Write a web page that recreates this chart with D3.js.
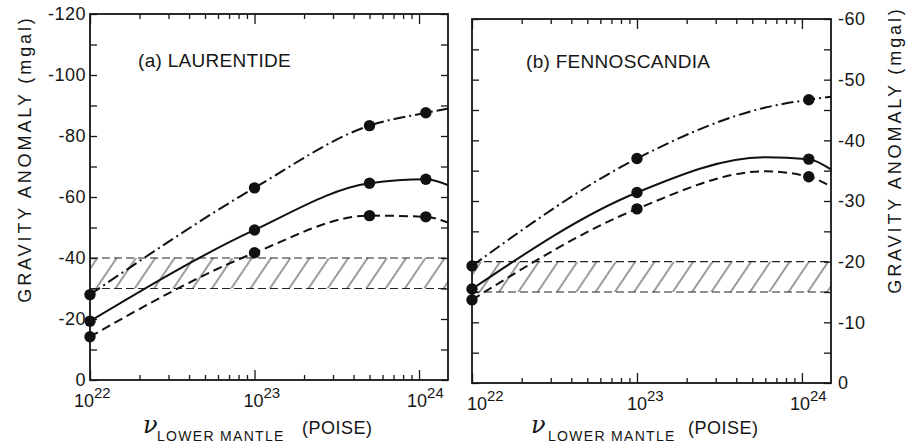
<!DOCTYPE html>
<html>
<head>
<meta charset="utf-8">
<script src="https://cdnjs.cloudflare.com/ajax/libs/d3/7.8.5/d3.min.js"></script>
<style>
	body { margin: 0; background: #fff; }
	svg text { font-family: "Liberation Sans", Arial, sans-serif; fill: #161616; }
	.axis path.domain { display: none; }
	.axis line { stroke: #161616; stroke-width: 1.3; }
	.axis text { font-size: 18px; letter-spacing: 0.5px; }
</style>
</head>
<body>
<svg id="chart" width="908" height="445"></svg>
<script>

// lower mantle viscosity (poise), points where each curve was read
var laurViscosity = [1e22, 1e23, 5e23, 1.1e24, 1.5e24];
var laurDashDot   = [-28, -63, -83.4, -87.6, -89];
var laurSolid     = [-19.3, -49.2, -64.5, -65.8, -63.9];
var laurDashed    = [-14.2, -41.7, -53.9, -53.5, -51.6];
var laurMarked    = [true, true, true, true, false];
var laurObserved  = [-30, -40];
var laurLabels    = [0, -20, -40, -60, -80, -100, -120];
var laurTicks     = [0, -10, -20, -30, -40, -50, -60, -70, -80, -90, -100, -110, -120];

var fennoViscosity = [1e22, 1e23, 6e23, 1.1e24, 1.5e24];
var fennoDashDot   = [-19.3, -37.0, -45.4, -46.7, -47.2];
var fennoSolid     = [-15.5, -31.4, -37.2, -36.9, -35.2];
var fennoDashed    = [-13.7, -28.7, -34.9, -34.0, -32.4];
var fennoMarked    = [true, true, false, true, false];
var fennoObserved  = [-15, -20];
var fennoLabels    = [0, -10, -20, -30, -40, -50, -60];
var fennoTicks     = [0, -5, -10, -15, -20, -25, -30, -35, -40, -45, -50, -55, -60];

var viscosityRange = [1e22, 1.5e24];
var decades = [1e22, 1e23, 1e24];
var decadeExponents = ["22", "23", "24"];

var svg = d3.select("#chart");

// hatch pattern for the observed band
var defs = svg.append("defs");
defs.append("pattern")
	.attr("id", "hatch")
	.attr("patternUnits", "userSpaceOnUse")
	.attr("width", 16)
	.attr("height", 16)
	.attr("patternTransform", "rotate(34)")
  .append("line")
	.attr("x1", 1).attr("y1", 0)
	.attr("x2", 1).attr("y2", 16)
	.attr("stroke", "#222")
	.attr("stroke-width", 0.9);

var panels = [
	{ left: 90, right: 448, top: 14, bottom: 380, yMax: -120,
	  xs: laurViscosity, marked: laurMarked, band: laurObserved,
	  series: [laurDashDot, laurSolid, laurDashed],
	  labels: laurLabels, ticks: laurTicks, labelSide: "left",
	  title: "(a) LAURENTIDE", titleX: 138, titleY: 67,
	  nuX: 143, lowerX: 157, poiseX: 302, expShift: [-16, -11, -12] },
	{ left: 472, right: 831, top: 19, bottom: 383, yMax: -60,
	  xs: fennoViscosity, marked: fennoMarked, band: fennoObserved,
	  series: [fennoDashDot, fennoSolid, fennoDashed],
	  labels: fennoLabels, ticks: fennoTicks, labelSide: "right",
	  title: "(b) FENNOSCANDIA", titleX: 526, titleY: 68,
	  nuX: 531, lowerX: 548, poiseX: 688, expShift: [-5, -10, -12] }
];

var dashes = ["12,4,2,4", null, "9,5"];

panels.forEach(function(p) { drawPanel(p); });

function drawPanel(p) {

	var x = d3.scaleLog()
		.domain(viscosityRange)
		.range([p.left, p.right]);

	var y = d3.scaleLinear()
		.domain([0, p.yMax])
		.range([p.bottom, p.top]);

	var g = svg.append("g");

	var fmt = function(d) { return d === 0 ? "0" : "-" + Math.abs(d); };
	var labelFmt = function(d) { return p.labels.indexOf(d) >= 0 ? fmt(d) : ""; };

	// observed anomaly band
	var bandTop = y(d3.min(p.band)),
		bandBot = y(d3.max(p.band));
	g.append("rect")
		.attr("x", p.left)
		.attr("y", bandTop)
		.attr("width", p.right - p.left)
		.attr("height", bandBot - bandTop)
		.attr("fill", "url(#hatch)");
	g.selectAll(".bandedge")
		.data(p.band)
	  .enter().append("line")
		.attr("class", "bandedge")
		.attr("x1", p.left)
		.attr("x2", p.right)
		.attr("y1", function(d) { return y(d); })
		.attr("y2", function(d) { return y(d); })
		.attr("stroke", "#222")
		.attr("stroke-width", 1.1)
		.attr("stroke-dasharray", "8,4");

	// y axes, ticks pointing into the plot
	var leftAxis = d3.axisLeft(y).tickValues(p.ticks).tickSize(-7).tickPadding(4)
		.tickFormat(p.labelSide === "left" ? labelFmt : function() { return ""; });
	var rightAxis = d3.axisRight(y).tickValues(p.ticks).tickSize(-7).tickPadding(7)
		.tickFormat(p.labelSide === "right" ? labelFmt : function() { return ""; });

	g.append("g")
		.attr("class", "axis")
		.attr("transform", "translate(" + p.left + ",0)")
		.call(leftAxis);
	g.append("g")
		.attr("class", "axis")
		.attr("transform", "translate(" + p.right + ",0)")
		.call(rightAxis);

	// x axes: log ticks, longer at decades
	var logTicks = x.ticks();
	var isDecade = function(d) { return Math.abs(Math.log10(d) - Math.round(Math.log10(d))) < 1e-6; };

	var bottomAxis = d3.axisBottom(x).tickValues(logTicks).tickFormat("")
		.tickSize(-5);
	var topAxis = d3.axisTop(x).tickValues(logTicks).tickFormat("")
		.tickSize(-5);

	var bx = g.append("g")
		.attr("class", "axis")
		.attr("transform", "translate(0," + p.bottom + ")")
		.call(bottomAxis);
	bx.selectAll(".tick line")
		.attr("y2", function(d) { return isDecade(d) ? -10 : -5; });

	var tx = g.append("g")
		.attr("class", "axis")
		.attr("transform", "translate(0," + p.top + ")")
		.call(topAxis);
	tx.selectAll(".tick line")
		.attr("y2", function(d) { return isDecade(d) ? 10 : 5; });

	// decade labels 10^n
	var dl = g.selectAll(".decade")
		.data(decades)
	  .enter().append("text")
		.attr("class", "decade")
		.attr("x", function(d, i) { return x(d) + p.expShift[i]; })
		.attr("y", p.bottom + 27)
		.style("font-size", "18px");
	dl.append("tspan").text("10");
	dl.append("tspan")
		.attr("dy", -9)
		.style("font-size", "15px")
		.text(function(d, i) { return decadeExponents[i]; });

	// frame
	g.append("rect")
		.attr("x", p.left)
		.attr("y", p.top)
		.attr("width", p.right - p.left)
		.attr("height", p.bottom - p.top)
		.attr("fill", "none")
		.attr("stroke", "#161616")
		.attr("stroke-width", 1.8);

	// curves
	var line = d3.line()
		.x(function(d) { return x(d[0]); })
		.y(function(d) { return y(d[1]); })
		.curve(d3.curveMonotoneX);

	p.series.forEach(function(vals, si) {
		var pts = p.xs.map(function(v, i) { return [v, vals[i]]; });
		g.append("path")
			.datum(pts)
			.attr("d", line)
			.attr("fill", "none")
			.attr("stroke", "#111")
			.attr("stroke-width", 2)
			.attr("stroke-dasharray", dashes[si]);

		g.selectAll(".dot" + si)
			.data(pts.filter(function(d, i) { return p.marked[i]; }))
		  .enter().append("circle")
			.attr("class", "dot" + si)
			.attr("cx", function(d) { return x(d[0]); })
			.attr("cy", function(d) { return y(d[1]); })
			.attr("r", 5.7)
			.attr("fill", "#111");
	});

	// panel title
	g.append("text")
		.attr("x", p.titleX)
		.attr("y", p.titleY)
		.style("font-size", "19px")
		.style("letter-spacing", "0.3px")
		.text(p.title);

	// x axis title
	g.append("text")
		.attr("x", p.nuX)
		.attr("y", 433)
		.style("font-family", "'DejaVu Serif', serif")
		.style("font-style", "italic")
		.style("font-size", "24px")
		.text("\u03BD");
	g.append("text")
		.attr("x", p.lowerX)
		.attr("y", 441)
		.style("font-size", "14px")
		.style("letter-spacing", "1.3px")
		.text("LOWER MANTLE");
	g.append("text")
		.attr("x", p.poiseX)
		.attr("y", 434)
		.style("font-size", "18px")
		.style("letter-spacing", "0.5px")
		.text("(POISE)");
}

// y axis titles
svg.append("text")
	.attr("transform", "translate(31,159) rotate(-90)")
	.attr("text-anchor", "middle")
	.style("font-size", "18px")
	.style("letter-spacing", "2.9px")
	.text("GRAVITY ANOMALY (mgal)");

svg.append("text")
	.attr("transform", "translate(901,150) rotate(-90)")
	.attr("text-anchor", "middle")
	.style("font-size", "18px")
	.style("letter-spacing", "2.9px")
	.text("GRAVITY ANOMALY (mgal)");

</script>
</body>
</html>
